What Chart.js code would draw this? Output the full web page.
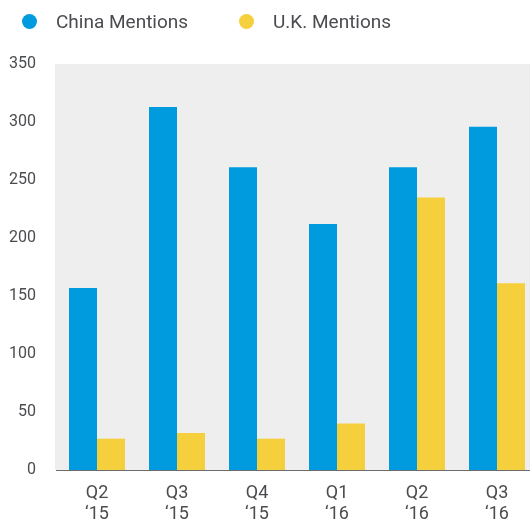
<!DOCTYPE html>
<html>
<head>
<meta charset="utf-8">
<script src="https://cdn.jsdelivr.net/npm/chart.js@4"></script>
<style>
    html, body { margin: 0; padding: 0; background: #fff; overflow: hidden; }
    #wrap { position: relative; width: 540px; height: 523px; }
    #legend { position: absolute; top: 0; left: 22px; height: 42px; display: flex; align-items: center; font-family: Roboto, sans-serif; font-size: 19px; color: #4b4c50; }
    .item { display: flex; align-items: center; width: 217px; }
    .dot { width: 15px; height: 15px; border-radius: 50%; margin-right: 19px; }
</style>
</head>
<body>
<div id="wrap">
    <canvas id="chart" width="540" height="523"></canvas>
    <div id="legend"></div>
</div>
<script>
const quarters = ['Q2', 'Q3', 'Q4', 'Q1', 'Q2', 'Q3'];
const years = ['\u201815', '\u201815', '\u201815', '\u201816', '\u201816', '\u201816'];
const chinaMentions = [157, 313, 261, 212, 261, 296];
const ukMentions = [27, 32, 27, 40, 235, 161];
const yTicks = [0, 50, 100, 150, 200, 250, 300, 350];

const seriesNames = ['China Mentions', 'U.K. Mentions'];
const seriesColors = ['#009bde', '#f6cf3d'];
const textColor = '#4b4c50';

const plotBackground = {
    id: 'plotBackground',
    beforeDatasetsDraw(chart) {
        const { ctx, chartArea } = chart;
        ctx.save();
        ctx.fillStyle = '#eeeeee';
        ctx.fillRect(chartArea.left - 2, chartArea.top, chartArea.right - chartArea.left + 2, chartArea.bottom - chartArea.top);
        ctx.restore();
    }
};

const labels = quarters.map((q, i) => [q, years[i]]);

const chart = new Chart(document.getElementById('chart').getContext('2d'), {
    type: 'bar',
    data: {
        labels: labels,
        datasets: [
            { label: seriesNames[0], data: chinaMentions, backgroundColor: seriesColors[0] },
            { label: seriesNames[1], data: ukMentions, backgroundColor: seriesColors[1] }
        ]
    },
    options: {
        responsive: false,
        animation: false,
        layout: { padding: { top: 64, right: 3, left: 0, bottom: 0 } },
        datasets: { bar: { categoryPercentage: 0.7, barPercentage: 1.0 } },
        plugins: {
            legend: { display: false },
            tooltip: { enabled: false }
        },
        scales: {
            x: {
                grid: { display: false, drawTicks: false },
                border: { display: true, color: '#6b6c70', width: 2 },
                ticks: {
                    color: textColor,
                    font: { family: 'Roboto', size: 18, lineHeight: 1.17 },
                    padding: 13,
                    maxRotation: 0
                },
                afterFit: s => { s.height = 53; }
            },
            y: {
                min: 0,
                max: 350,
                afterBuildTicks: s => { s.ticks = yTicks.map(v => ({ value: v })); },
                grid: { display: false, drawTicks: false },
                border: { display: false },
                ticks: {
                    color: textColor,
                    font: { family: 'Roboto', size: 16 },
                    padding: 21
                },
                afterFit: s => { s.width = 57; }
            }
        }
    },
    plugins: [plotBackground]
});

document.getElementById('legend').innerHTML = chart.data.datasets.map(ds =>
    `<span class="item"><span class="dot" style="background:${ds.backgroundColor}"></span>${ds.label}</span>`
).join('');
</script>
</body>
</html>
